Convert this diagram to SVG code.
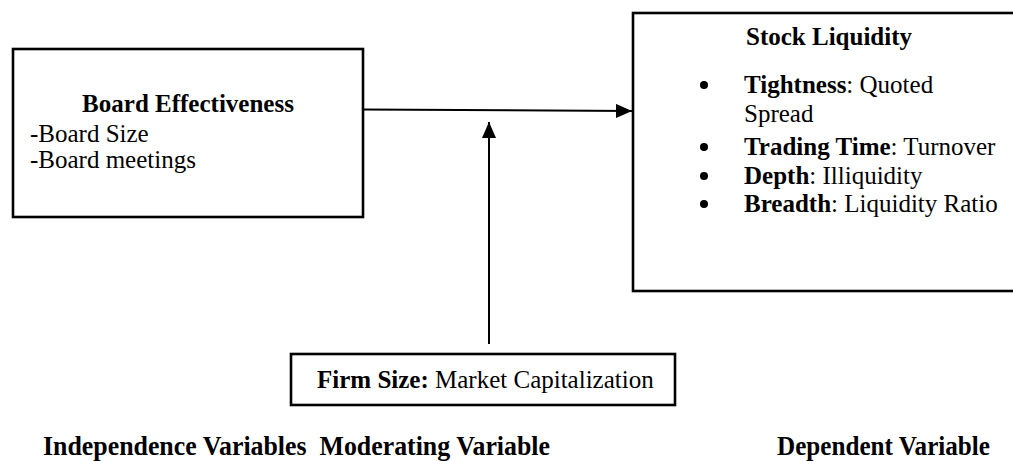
<svg xmlns="http://www.w3.org/2000/svg" width="1013" height="461" viewBox="0 0 1013 461">
<style>
  .box { fill: #ffffff; stroke: #000000; stroke-width: 2.6; }
  .t { font-family: "Liberation Serif", "Times New Roman", serif; font-size: 25px; fill: #000000; }
  .b { font-weight: bold; }
  .lbl { font-family: "Liberation Serif", "Times New Roman", serif; font-size: 27px; font-weight: bold; fill: #000000; white-space: pre; }
  .conn { stroke: #000000; stroke-width: 2; fill: none; }
  .dot { fill: #000000; }
</style>
<defs>
  <marker id="arrow" viewBox="0 0 16 14" refX="16" refY="7" markerWidth="16" markerHeight="14" markerUnits="userSpaceOnUse" orient="auto">
    <path d="M0,0 L16,7 L0,14 Z" fill="#000000"/>
  </marker>
</defs>
<rect width="1013" height="461" fill="#ffffff"/>

<g id="connectors">
  <line class="conn" x1="362" y1="109.5" x2="632" y2="111" marker-end="url(#arrow)"/>
  <line class="conn" x1="489" y1="344" x2="489" y2="122" marker-end="url(#arrow)"/>
</g>

<g id="board-effectiveness">
  <rect class="box" x="13" y="49" width="350" height="168"/>
  <text class="t b" x="188" y="112" text-anchor="middle">Board Effectiveness</text>
  <text class="t" x="30" y="142">-Board Size</text>
  <text class="t" x="30" y="168">-Board meetings</text>
</g>

<g id="stock-liquidity">
  <rect class="box" x="633" y="13" width="390" height="278"/>
  <text class="t b" x="829" y="45" text-anchor="middle">Stock Liquidity</text>
  <circle class="dot" cx="704" cy="85" r="4"/>
  <text class="t" x="744" y="93"><tspan class="b">Tightness</tspan>: Quoted</text>
  <text class="t" x="744" y="122">Spread</text>
  <circle class="dot" cx="704" cy="147" r="4"/>
  <text class="t" x="744" y="155"><tspan class="b">Trading Time</tspan>: Turnover</text>
  <circle class="dot" cx="704" cy="176" r="4"/>
  <text class="t" x="744" y="184"><tspan class="b">Depth</tspan>: Illiquidity</text>
  <circle class="dot" cx="704" cy="204" r="4"/>
  <text class="t" x="744" y="212"><tspan class="b">Breadth</tspan>: Liquidity Ratio</text>
</g>

<g id="firm-size">
  <rect class="box" x="291" y="354" width="384" height="51"/>
  <text class="t" x="317" y="388"><tspan class="b">Firm Size:</tspan> Market Capitalization</text>
</g>

<g id="labels">
  <text class="lbl" x="43" y="455" xml:space="preserve" textLength="507" lengthAdjust="spacingAndGlyphs">Independence Variables  Moderating Variable</text>
  <text class="lbl" x="777" y="455" textLength="213" lengthAdjust="spacingAndGlyphs">Dependent Variable</text>
</g>
</svg>
